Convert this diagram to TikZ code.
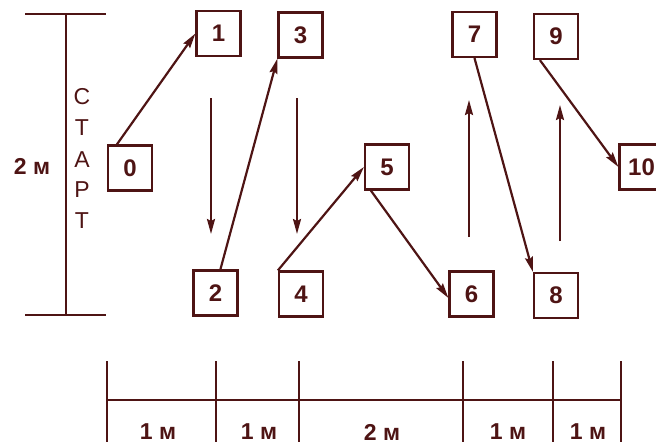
\documentclass[tikz,border=0pt]{standalone}
\usepackage{fontspec}
\setmainfont{Liberation Sans}
\usetikzlibrary{arrows.meta,calc}
\definecolor{ink}{RGB}{78,20,20}
\begin{document}
\begin{tikzpicture}[x=1pt,y=-1pt,
  line width=2.4pt, draw=ink,
  numbox/.style={draw=ink, line width=2.2pt, minimum width=44pt, minimum height=45pt, inner sep=0pt, font=\fontsize{24}{24}\selectfont\bfseries, text=ink},
  lbl/.style={inner sep=0pt, text=ink, font=\fontsize{23}{23}\selectfont\bfseries},
  vlet/.style={inner sep=0pt, text=ink, font=\fontsize{23}{23}\selectfont},
  arr/.style={-{Stealth[length=15pt,width=8pt,inset=2pt]}, line width=2.2pt, draw=ink}]
\clip (0,0) rectangle (656,444);
\useasboundingbox (0,0) rectangle (656,444);
% boxes
\node[numbox] (b0) at (130,168) {0};
\node[numbox] (b1) at (218.5,33.5) {1};
\node[numbox] (b2) at (215.5,293) {2};
\node[numbox] (b3) at (300.5,35) {3};
\node[numbox] (b4) at (301,294) {4};
\node[numbox] (b5) at (387,167) {5};
\node[numbox] (b6) at (471.5,294) {6};
\node[numbox] (b7) at (474.5,34.5) {7};
\node[numbox] (b8) at (556,295.5) {8};
\node[numbox] (b9) at (556,36.5) {9};
\node[numbox] (b10) at (641.5,167) {10};
% diagonal arrows
\draw[arr] ([xshift=10pt]b0.north west) -- (b1.west);
\draw[arr] ([xshift=28pt]b2.north west) -- (b3.south west);
\draw[arr] (b4.north west) -- (b5.west);
\draw[arr] ([xshift=7pt]b5.south west) -- ([yshift=-4pt]b6.west);
\draw[arr] (b7.south) -- (b8.north west);
\draw[arr] ([xshift=7pt]b9.south west) -- (b10.west);
% vertical arrows
\coordinate (v1s) at (211,98); \coordinate (v1e) at (211,234);
\coordinate (v2s) at (297,98); \coordinate (v2e) at (297,234);
\coordinate (v3s) at (469,237); \coordinate (v3e) at (469,100);
\coordinate (v4s) at (560,241); \coordinate (v4e) at (560,105);
\draw[arr] (v1s) -- (v1e);
\draw[arr] (v2s) -- (v2e);
\draw[arr] (v3s) -- (v3e);
\draw[arr] (v4s) -- (v4e);
% left dimension
\coordinate (lt) at (66,14); \coordinate (lb) at (66,315);
\draw (lt) -- (lb);
\draw (25,14) -- (106,14);
\draw (25,315) -- (106,315);
\node[lbl] (ldim) at (32,166) {2 м};
\node[vlet] (s1) at (82,97) {С};
\node[vlet] (s2) at (82,128) {Т};
\node[vlet] (s3) at (82,160) {А};
\node[vlet] (s4) at (82,190) {Р};
\node[vlet] (s5) at (82,221) {Т};
% bottom dimension
\draw (107,400) -- (621,400);
\foreach \x in {107,216,299,463,553,621} \draw (\x,361) -- (\x,442);
\node[lbl] (d1) at (158,432) {1 м};
\node[lbl] (d2) at (259,432) {1 м};
\node[lbl] (d3) at (382,432) {2 м};
\node[lbl] (d4) at (508,432) {1 м};
\node[lbl] (d5) at (588,432) {1 м};
\end{tikzpicture}
\end{document}
